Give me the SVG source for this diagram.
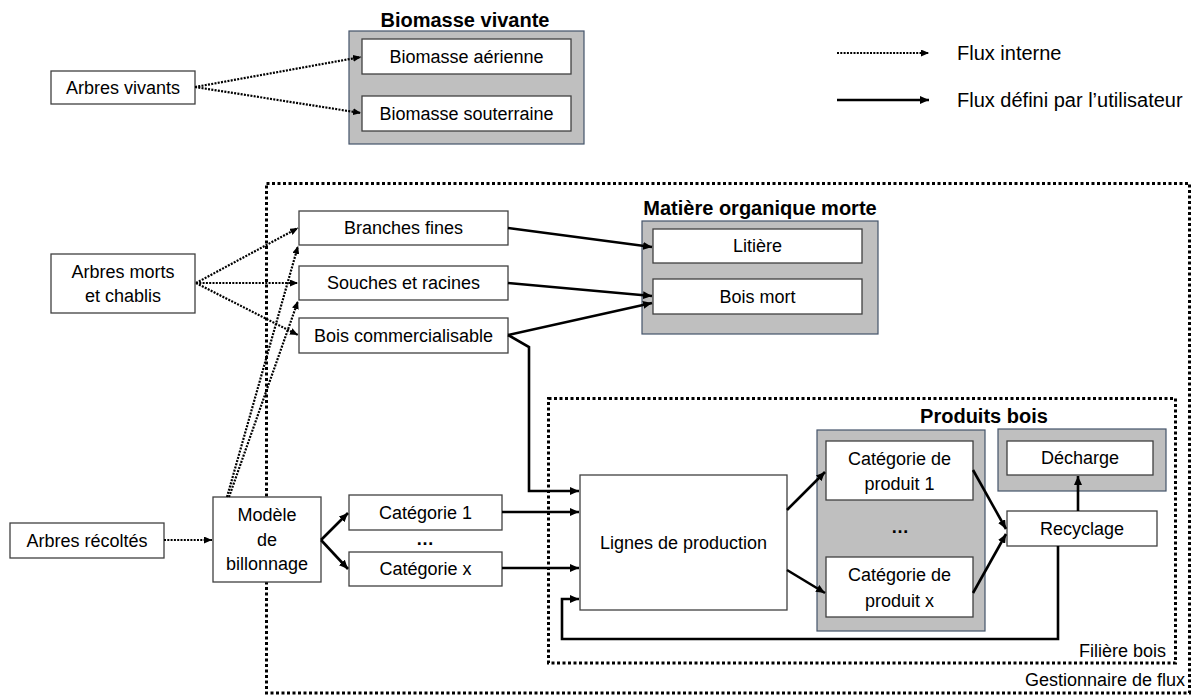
<svg xmlns="http://www.w3.org/2000/svg" width="1193" height="697" viewBox="0 0 1193 697">
<defs>
<marker id="ah" markerUnits="userSpaceOnUse" markerWidth="10" markerHeight="8" refX="9" refY="4" orient="auto">
<path d="M0,0 L9,4 L0,8 z" fill="#000"/>
</marker>
<marker id="ahs" markerUnits="userSpaceOnUse" markerWidth="9" markerHeight="7" refX="8" refY="3.5" orient="auto">
<path d="M0,0 L8,3.5 L0,7 z" fill="#000"/>
</marker>
</defs>
<style>
.box{fill:#fff;stroke:#404040;stroke-width:1.3}
.grp{fill:#bfbfbf;stroke:#44546a;stroke-width:1.2}
.t{font-family:"Liberation Sans",Arial,sans-serif;font-size:18px;fill:#000;text-anchor:middle;dominant-baseline:central}
.tl{font-family:"Liberation Sans",Arial,sans-serif;font-size:20px;fill:#000;dominant-baseline:central}
.tr{font-family:"Liberation Sans",Arial,sans-serif;font-size:18px;fill:#000;text-anchor:end}
.title{font-family:"Liberation Sans",Arial,sans-serif;font-size:20px;font-weight:bold;fill:#000;text-anchor:middle}
.frame{fill:none;stroke:#000;stroke-width:3;stroke-dasharray:3 2.5}
.dot{fill:none;stroke:#000;stroke-width:2.2;stroke-dasharray:2 1.3;marker-end:url(#ahs)}
.sol{fill:none;stroke:#000;stroke-width:2.6;marker-end:url(#ah)}
</style>
<rect width="1193" height="697" fill="#fff"/>

<g id="frames">
<rect id="gestionnaire" class="frame" x="266.5" y="183.5" width="923" height="509.5"/>
<text class="tr" x="1185" y="686">Gestionnaire de flux</text>
<rect id="filiere" class="frame" x="548.5" y="398.5" width="627" height="264.5"/>
<text class="tr" x="1166" y="657">Filière bois</text>
</g>

<g id="legend">
<line class="dot" x1="837" y1="53" x2="929" y2="53"/>
<text class="tl" x="957" y="53">Flux interne</text>
<line class="sol" x1="837" y1="100" x2="929" y2="100"/>
<text class="tl" x="957" y="100">Flux défini par l’utilisateur</text>
</g>

<g id="biomasse-vivante">
<text class="title" x="465" y="27">Biomasse vivante</text>
<rect class="grp" x="349" y="31" width="235" height="113"/>
<g id="biomasse-aerienne"><rect class="box" x="362" y="39" width="209" height="35"/><text class="t" x="466.5" y="56.5">Biomasse aérienne</text></g>
<g id="biomasse-souterraine"><rect class="box" x="362" y="96" width="209" height="35"/><text class="t" x="466.5" y="113.5">Biomasse souterraine</text></g>
</g>

<g id="arbres-vivants"><rect class="box" x="51" y="71" width="144" height="33"/><text class="t" x="123" y="87.5">Arbres vivants</text></g>

<g id="arbres-morts"><rect class="box" x="51" y="254" width="144" height="59"/><text class="t" x="123" y="272">Arbres morts</text><text class="t" x="123" y="296">et chablis</text></g>

<g id="branches-fines"><rect class="box" x="299" y="211" width="209" height="34"/><text class="t" x="403.5" y="228">Branches fines</text></g>
<g id="souches"><rect class="box" x="299" y="266" width="209" height="34"/><text class="t" x="403.5" y="283">Souches et racines</text></g>
<g id="bois-commercialisable"><rect class="box" x="299" y="318" width="209" height="35"/><text class="t" x="403.5" y="335.5">Bois commercialisable</text></g>

<g id="matiere-organique-morte">
<text class="title" x="760" y="215">Matière organique morte</text>
<rect class="grp" x="642" y="221" width="236" height="113"/>
<g id="litiere"><rect class="box" x="653" y="229" width="209" height="34"/><text class="t" x="757.5" y="246">Litière</text></g>
<g id="bois-mort"><rect class="box" x="653" y="279" width="209" height="35"/><text class="t" x="757.5" y="296.5">Bois mort</text></g>
</g>

<g id="arbres-recoltes"><rect class="box" x="10" y="523" width="154" height="35"/><text class="t" x="87" y="540.5">Arbres récoltés</text></g>

<g id="modele-billonnage"><rect class="box" x="213" y="497" width="108" height="85"/><text class="t" x="267" y="515">Modèle</text><text class="t" x="267" y="540">de</text><text class="t" x="267" y="564">billonnage</text></g>

<g id="categorie-1"><rect class="box" x="349" y="495" width="153" height="35"/><text class="t" x="425.5" y="512.5">Catégorie 1</text></g>
<text class="t" x="425" y="539" font-weight="bold">…</text>
<g id="categorie-x"><rect class="box" x="349" y="552" width="153" height="34"/><text class="t" x="425.5" y="569">Catégorie x</text></g>

<g id="lignes-production"><rect class="box" x="580" y="475" width="207" height="135"/><text class="t" x="683.5" y="543">Lignes de production</text></g>

<g id="produits-bois">
<text class="title" x="984" y="423">Produits bois</text>
<rect class="grp" x="817" y="430" width="168" height="201"/>
<g id="categorie-produit-1"><rect class="box" x="826" y="441" width="147" height="59"/><text class="t" x="899.5" y="459">Catégorie de</text><text class="t" x="899.5" y="484">produit 1</text></g>
<text class="t" x="900" y="527" font-weight="bold">…</text>
<g id="categorie-produit-x"><rect class="box" x="826" y="557" width="147" height="60"/><text class="t" x="899.5" y="575">Catégorie de</text><text class="t" x="899.5" y="601">produit x</text></g>
</g>

<g id="decharge-group">
<rect class="grp" x="998" y="429" width="168" height="62"/>
<g id="decharge"><rect class="box" x="1007" y="441" width="146" height="34"/><text class="t" x="1080" y="458">Décharge</text></g>
</g>

<g id="recyclage"><rect class="box" x="1007" y="511" width="150" height="35"/><text class="t" x="1082" y="528.5">Recyclage</text></g>

<g id="connectors">
<line class="dot" x1="195" y1="87" x2="361" y2="57"/>
<line class="dot" x1="195" y1="87" x2="361" y2="113"/>
<line class="dot" x1="196" y1="283" x2="298" y2="228"/>
<line class="dot" x1="196" y1="283" x2="298" y2="283"/>
<line class="dot" x1="196" y1="283" x2="298" y2="335"/>
<line class="dot" x1="227" y1="497" x2="298" y2="246"/>
<line class="dot" x1="229" y1="497" x2="298" y2="301"/>
<line class="dot" x1="164" y1="540" x2="212" y2="540"/>
<line class="sol" x1="508" y1="228" x2="652" y2="247"/>
<line class="sol" x1="508" y1="283" x2="652" y2="296"/>
<line class="sol" x1="508" y1="335" x2="652" y2="303"/>
<polyline class="sol" points="508,335 529,347 529,491 579,491"/>
<line class="sol" x1="321" y1="540" x2="348" y2="513"/>
<line class="sol" x1="321" y1="540" x2="348" y2="569"/>
<line class="sol" x1="502" y1="512" x2="579" y2="512"/>
<line class="sol" x1="502" y1="568" x2="579" y2="568"/>
<line class="sol" x1="787" y1="510" x2="825" y2="472"/>
<line class="sol" x1="787" y1="570" x2="825" y2="593"/>
<line class="sol" x1="973" y1="470" x2="1006" y2="529"/>
<line class="sol" x1="973" y1="593" x2="1006" y2="534"/>
<line class="sol" x1="1078" y1="511" x2="1078" y2="476"/>
<polyline class="sol" points="1058,546 1058,639 562,639 562,599 579,599"/>
</g>
</svg>
